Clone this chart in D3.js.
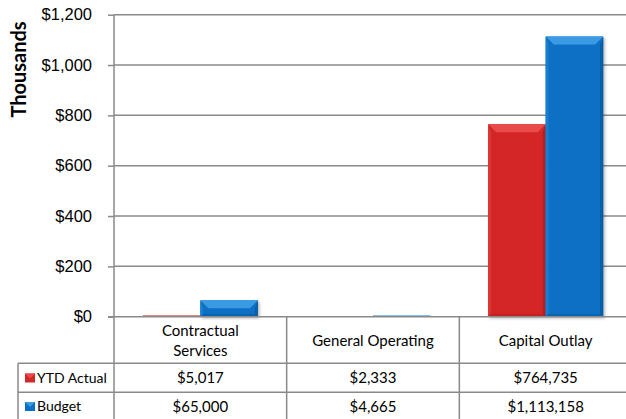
<!DOCTYPE html>
<html>
<head>
<meta charset="utf-8">
<script src="https://cdn.jsdelivr.net/npm/d3@7"></script>
<style>
  html, body { margin: 0; padding: 0; background: #fff; }
  svg { display: block; font-family: Lato, "Open Sans", sans-serif; }
</style>
</head>
<body>
<svg id="chart" width="626" height="419"></svg>
<script>
// Spending by category, in dollars
const categories = ["Contractual Services", "General Operating", "Capital Outlay"];
const categoryLines = [["Contractual", "Services"], ["General Operating"], ["Capital Outlay"]];
const seriesNames = ["YTD Actual", "Budget"];
const ytdActual = [5017, 2333, 764735];
const budget = [65000, 4665, 1113158];
const yTicks = [0, 200, 400, 600, 800, 1000, 1200]; // thousands

const W = 626, H = 419;
const plotLeft = 114, plotRight = 632, plotTop = 14.7, plotBase = 316.7;
const headerBottom = 363.3, row1Bottom = 392.3;
const legendLeft = 18;

const gridColor = "#8a8a8a";
const palette = {
  "YTD Actual": { main: "#d42828", topBevel: "#e94a4a", leftBevel: "#da3636", rightBevel: "#b61e1e", bottomBevel: "#c22222" },
  "Budget": { main: "#0a70c4", topBevel: "#3b9ae4", leftBevel: "#187ed0", rightBevel: "#095ea6", bottomBevel: "#0a63ae" }
};

const svg = d3.select("#chart");
const seriesValues = { "YTD Actual": ytdActual, "Budget": budget };

const y = d3.scaleLinear().domain([0, 1200]).range([plotBase, plotTop]);
const x0 = d3.scaleBand().domain(categories).range([plotLeft, plotRight]).paddingInner(0).paddingOuter(0);
const x1 = d3.scaleBand().domain(seriesNames).range([0, x0.bandwidth()]).paddingInner(0).paddingOuter(0.5);

// Shadow filter for bars
const defs = svg.append("defs");
const f = defs.append("filter").attr("id", "shadow").attr("x", "-20%").attr("y", "-20%").attr("width", "140%").attr("height", "140%");
f.append("feDropShadow").attr("dx", 1.5).attr("dy", 1.5).attr("stdDeviation", 1.5).attr("flood-color", "#000").attr("flood-opacity", 0.3);

// Gridlines and y-axis
const yAxis = d3.axisLeft(y)
  .tickValues(yTicks)
  .tickSize(6)
  .tickPadding(16)
  .tickFormat(d => "$" + d3.format(",")(d));

const gAxis = svg.append("g").attr("transform", `translate(${plotLeft},0)`).call(yAxis);
gAxis.select(".domain").remove();
gAxis.selectAll(".tick line").attr("stroke", gridColor).attr("stroke-width", 1.5);
gAxis.selectAll(".tick text").attr("fill", "#000").style("font-size", "16.5px");

svg.append("g").selectAll("line.grid")
  .data(yTicks.filter(d => d > 0))
  .join("line")
  .attr("x1", plotLeft).attr("x2", W)
  .attr("y1", d => y(d)).attr("y2", d => y(d))
  .attr("stroke", gridColor).attr("stroke-width", 1.5);

// Axis title
svg.append("text")
  .attr("transform", "translate(26,69.5) rotate(-90)")
  .attr("text-anchor", "middle")
  .style("font-size", "20px").style("font-weight", "bold")
  .text("Thousands");

// Bevelled bar drawing
function bevelBar(g, x, yTop, w, h, c) {
  const b = Math.min(8, h / 2, w / 2);
  const xr = x + w, yb = yTop + h;
  const body = g.append("rect").attr("x", x).attr("y", yTop).attr("width", w).attr("height", h)
    .attr("fill", c.main);
  if (h < 3) return;
  body.attr("filter", "url(#shadow)");
  g.append("polygon").attr("points", [[x, yTop], [xr, yTop], [xr - b, yTop + b], [x + b, yTop + b]].join(" ")).attr("fill", c.topBevel);
  const s = Math.min(3, w / 4);
  g.append("polygon").attr("points", [[x, yTop], [x + s, yTop + b], [x + s, yb - s], [x, yb]].join(" ")).attr("fill", c.leftBevel);
  g.append("polygon").attr("points", [[xr, yTop], [xr - s, yTop + b], [xr - s, yb - s], [xr, yb]].join(" ")).attr("fill", c.rightBevel);
  g.append("polygon").attr("points", [[x, yb], [x + s, yb - s], [xr - s, yb - s], [xr, yb]].join(" ")).attr("fill", c.bottomBevel);
}

const barsG = svg.append("g");
categories.forEach((cat, i) => {
  seriesNames.forEach(s => {
    const v = seriesValues[s][i] / 1000;
    const yTop = y(v);
    const h = plotBase - yTop;
    const g = barsG.append("g");
    bevelBar(g, x0(cat) + x1(s), yTop, x1.bandwidth(), h, palette[s]);
  });
});

// Data table
const tableColor = "#8a8a8a";
const t = svg.append("g").attr("stroke", tableColor).attr("stroke-width", 1.5);
// baseline / table top
t.append("line").attr("x1", plotLeft - 6).attr("x2", W).attr("y1", plotBase).attr("y2", plotBase);
// vertical axis line through the table
t.append("line").attr("x1", plotLeft).attr("x2", plotLeft).attr("y1", plotTop).attr("y2", H);
// column separators
categories.slice(1).forEach(cat => {
  t.append("line").attr("x1", x0(cat)).attr("x2", x0(cat)).attr("y1", plotBase).attr("y2", H);
});
// row lines
[headerBottom, row1Bottom].forEach(yy => {
  t.append("line").attr("x1", legendLeft).attr("x2", W).attr("y1", yy).attr("y2", yy);
});
// legend column left border
t.append("line").attr("x1", legendLeft).attr("x2", legendLeft).attr("y1", headerBottom).attr("y2", H);

// Header text
const txt = svg.append("g").style("font-size", "15px").attr("fill", "#000");
categories.forEach((cat, i) => {
  const lines = categoryLines[i];
  const cx = x0(cat) + x0.bandwidth() / 2;
  const cy = 340.5;
  lines.forEach((ln, j) => {
    txt.append("text")
      .attr("x", cx)
      .attr("y", cy + (j - (lines.length - 1) / 2) * 20)
      .attr("dy", "0.35em")
      .attr("text-anchor", "middle")
      .text(ln);
  });
});

// Row cells
const rowCenters = [378, 406.5];
seriesNames.forEach((s, r) => {
  const cy = rowCenters[r];
  // legend key
  const kx = 25, kw = 10, kh = 9;
  const c = palette[s];
  const kg = svg.append("g");
  kg.append("rect").attr("x", kx).attr("y", cy - kh / 2).attr("width", kw).attr("height", kh).attr("fill", c.main);
  kg.append("polygon").attr("points", [[kx, cy - kh / 2], [kx + kw, cy - kh / 2], [kx + kw / 2, cy + 0.5]].join(" ")).attr("fill", c.topBevel);
  txt.append("text").attr("x", 37).attr("y", cy).attr("dy", "0.35em").style("font-size", "14px").text(s);
  categories.forEach((cat, i) => {
    txt.append("text")
      .attr("x", x0(cat) + x0.bandwidth() / 2)
      .attr("y", cy).attr("dy", "0.35em")
      .attr("text-anchor", "middle")
      .text("$" + d3.format(",")(seriesValues[s][i]));
  });
});
</script>
</body>
</html>
